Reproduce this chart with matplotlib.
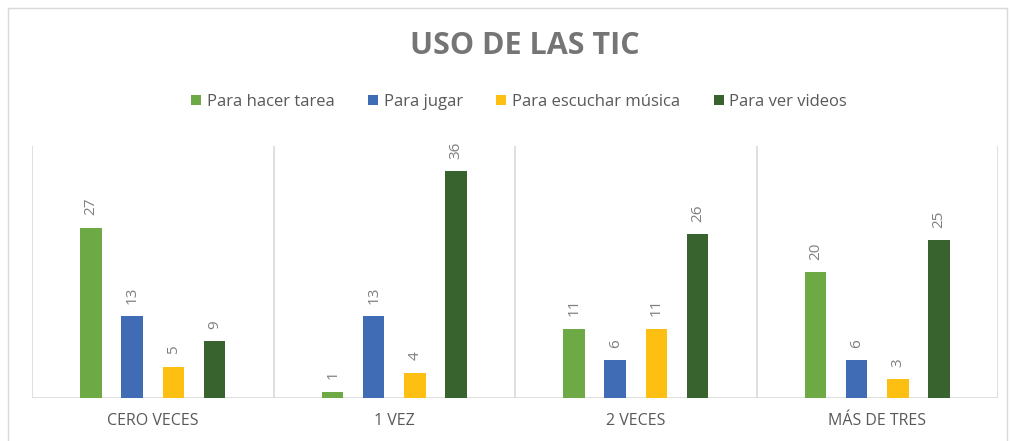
import matplotlib.pyplot as plt
from matplotlib.patches import Patch
from matplotlib.lines import Line2D
import numpy as np

categories = ['CERO VECES', '1 VEZ', '2 VECES', 'MÁS DE TRES']
series = ['Para hacer tarea', 'Para jugar', 'Para escuchar música', 'Para ver videos']
tarea = [27, 1, 11, 20]
jugar = [13, 13, 6, 6]
musica = [5, 4, 11, 3]
videos = [9, 36, 26, 25]
colors = ['#6DAA45', '#3F6CB5', '#FDBF12', '#38632F']

plt.rcParams['font.family'] = ['Open Sans', 'DejaVu Sans']

fig = plt.figure(figsize=(10.1, 4.41), dpi=100)
ax = fig.add_axes([32 / 1010, 1 - 398 / 441, (998 - 32) / 1010, (398 - 146) / 441])

x = np.arange(len(categories))
slot = 0.17
width = 0.089
for i, (vals, c) in enumerate(zip([tarea, jugar, musica, videos], colors)):
    pos = x + (i - 1.5) * slot
    bars = ax.bar(pos, vals, width, color=c, zorder=3)
    for b, v in zip(bars, vals):
        ax.annotate(str(v), (b.get_x() + b.get_width() / 2, v), xytext=(0, 9),
                    textcoords='offset points', rotation=90, ha='center', va='bottom',
                    fontsize=11, color='#7F7F7F')

ax.set_xlim(-0.5, 3.5)
ax.set_ylim(0, 40)
for xv in np.arange(-0.5, 4, 1):
    ax.axvline(xv, color='#D9D9D9', lw=1.2, zorder=1)
for s in ax.spines.values():
    s.set_visible(False)
ax.axhline(0, color='#D9D9D9', lw=1.2, zorder=2)
ax.set_yticks([])
ax.set_xticks(x)
ax.set_xticklabels(categories, fontsize=11.5, color='#595959')
ax.tick_params(axis='x', length=0, pad=11)

fig.text(0.52, 1 - 46 / 441, 'USO DE LAS TIC', ha='center', va='center',
         fontsize=22, fontweight='bold', color='#757575')

handles = [Patch(facecolor=c, edgecolor='none') for c in colors]
fig.legend(handles, series, loc='center', bbox_to_anchor=(0.514, 1 - 102 / 441), ncol=4,
           frameon=False, fontsize=12, labelcolor='#595959', handlelength=0.6,
           handleheight=0.6, handletextpad=0.35, columnspacing=2.0)

# chart border
for xs, ys in [([8, 8], [0, 433]), ([8, 1007], [433, 433]), ([1007, 1007], [433, 0])]:
    fig.add_artist(Line2D(np.array(xs) / 1010, np.array(ys) / 441, color='#D9D9D9', lw=1))

fig.savefig('out.png', dpi=100)
